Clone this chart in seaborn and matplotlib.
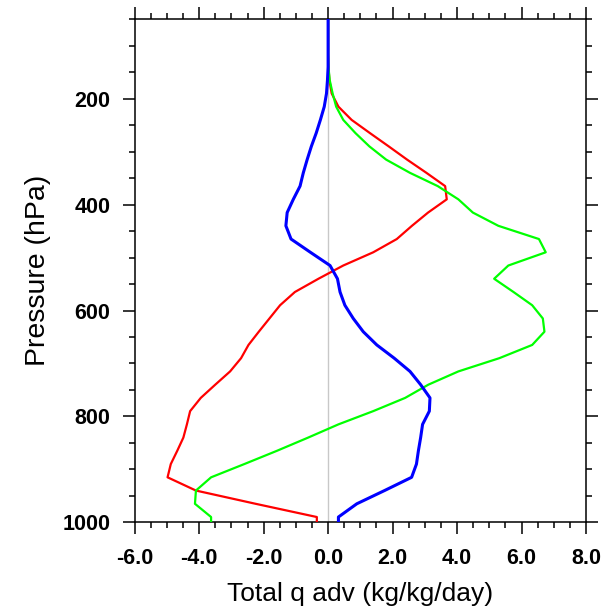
import matplotlib
matplotlib.use("Agg")
import matplotlib.pyplot as plt
from matplotlib.ticker import MultipleLocator, FormatStrFormatter
import seaborn as sns
import pandas as pd

# Pressure levels (hPa)
pressure = [1000, 990, 965, 940, 915, 890, 865, 840, 815, 790, 765, 740, 715, 690,
            665, 640, 615, 590, 565, 540, 515, 490, 465, 440, 415, 390, 365, 340,
            315, 290, 265, 240, 215, 190, 165, 140, 115, 90, 65, 40]

# Total moisture advection profiles (kg/kg/day)
adv_red = [-0.35, -0.35, -2.25, -4.10, -4.98, -4.88, -4.68, -4.49, -4.38, -4.28,
           -3.95, -3.50, -3.04, -2.70, -2.47, -2.15, -1.82, -1.49, -1.03, -0.30,
           0.47, 1.40, 2.13, 2.60, 3.10, 3.68, 3.63, 3.05, 2.45, 1.88, 1.30, 0.73,
           0.32, 0.11, 0.04, 0.01, 0.0, 0.0, 0.0, 0.0]
adv_green = [-3.63, -3.63, -4.13, -4.10, -3.63, -2.60, -1.59, -0.62, 0.32, 1.40,
             2.39, 3.11, 4.04, 5.31, 6.33, 6.71, 6.66, 6.33, 5.75, 5.15, 5.59, 6.75,
             6.54, 5.28, 4.49, 4.04, 3.40, 2.54, 1.80, 1.28, 0.85, 0.47, 0.25, 0.14,
             0.05, 0.01, 0.0, 0.0, 0.0, 0.0]
adv_blue = [0.32, 0.32, 0.89, 1.75, 2.59, 2.74, 2.80, 2.87, 2.93, 3.14, 3.16, 2.87,
            2.54, 2.05, 1.51, 1.09, 0.78, 0.52, 0.37, 0.29, 0.06, -0.55, -1.15,
            -1.31, -1.27, -1.08, -0.87, -0.77, -0.65, -0.52, -0.37, -0.24, -0.12,
            -0.05, -0.02, 0.0, 0.0, 0.0, 0.0, 0.0]

series = [("red", adv_red, "#ff0000", 1.6),
          ("green", adv_green, "#00ff00", 1.6),
          ("blue", adv_blue, "#0000ff", 2.2)]

sns.set_style("ticks")
plt.rcParams["font.family"] = ["Liberation Sans", "DejaVu Sans"]
plt.rcParams["axes.unicode_minus"] = False
plt.rcParams["text.color"] = "black"
plt.rcParams["axes.labelcolor"] = "black"
plt.rcParams["xtick.color"] = "black"
plt.rcParams["ytick.color"] = "black"

fig = plt.figure(figsize=(6.13, 6.15), dpi=100)
ax = fig.add_axes([0.2197, 0.1507, 0.956 - 0.2197, 0.9686 - 0.1507])

ax.axvline(0, color="#c8c8c8", lw=1.0, zorder=1)

for name, vals, color, lw in series:
    df = pd.DataFrame({"p": pressure, "adv": vals})
    sns.lineplot(data=df, x="adv", y="p", sort=False, orient="y",
                 color=color, lw=lw, ax=ax, zorder=3)

ax.set_xlim(-6, 8)
ax.set_ylim(1000, 50)
ax.xaxis.set_major_locator(MultipleLocator(2))
ax.xaxis.set_minor_locator(MultipleLocator(0.5))
ax.xaxis.set_major_formatter(FormatStrFormatter("%.1f"))
ax.set_yticks([200, 400, 600, 800, 1000])
ax.yaxis.set_minor_locator(MultipleLocator(50))

for s in ax.spines.values():
    s.set_linewidth(1.1)
    s.set_color("black")

ax.tick_params(which="both", direction="out", top=True, right=True,
               width=1.1, color="black", labelcolor="black")
ax.tick_params(which="major", length=8.5, labelsize=15.5)
ax.tick_params(axis="y", which="major", pad=9)
ax.tick_params(axis="x", which="major", pad=10)
ax.tick_params(which="minor", length=4.5)
for lab in ax.get_xticklabels() + ax.get_yticklabels():
    lab.set_fontweight("bold")

ax.set_xlabel("Total q adv (kg/kg/day)", fontsize=19, labelpad=9)
ax.set_ylabel("Pressure (hPa)", fontsize=20.5, labelpad=8)

fig.savefig("out.png", dpi=100)
